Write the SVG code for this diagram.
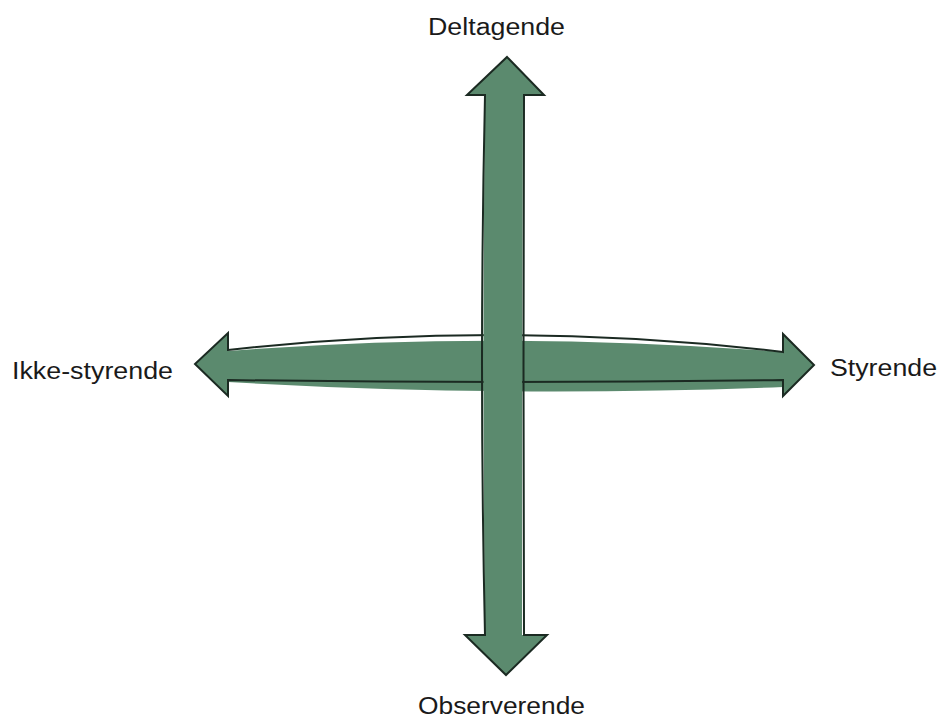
<svg xmlns="http://www.w3.org/2000/svg" width="940" height="718" viewBox="0 0 940 718">
  <style>
    .fill { fill: #5b8a6e; stroke: none; }
    .outline { fill: none; stroke: #1b2a22; stroke-width: 2; stroke-linejoin: miter; }
    .label { font-family: "Liberation Sans", Arial, sans-serif; font-size: 23px; fill: #1a1a1a; }
  </style>
  <rect x="0" y="0" width="940" height="718" fill="#ffffff"/>
  <g id="connectors">
    <g id="axis-horizontal">
      <path class="fill" d="M195,364 L228,333 L228,351 Q500,330 783,352 L783,334 L814,365 L783,396 L783,387 Q500,398 228,382 L228,396 Z"/>
      <path class="outline" d="M228,350 L228,333 L195,364 L228,396 L228,380 Q505,384 783,380 L783,396 L814,365 L783,334 L783,352 Q505,319 228,350 Z"/>
    </g>
    <g id="axis-vertical">
      <path class="fill" d="M507,57 L544,95 L523,95 Q522,365 522,635 L547,635 L506,675 L465,635 L485,635 Q482,365 485,95 L467,95 Z"/>
      <path class="outline" d="M507,57 L544,95 L524,95 Q523,365 524,635 L547,635 L506,675 L465,635 L485,635 Q479,365 485,95 L467,95 Z"/>
    </g>
  </g>
  <g id="node-deltagende">
    <text class="label" x="428" y="35" textLength="137" lengthAdjust="spacingAndGlyphs">Deltagende</text>
  </g>
  <g id="node-ikke-styrende">
    <text class="label" x="12" y="379" textLength="161" lengthAdjust="spacingAndGlyphs">Ikke-styrende</text>
  </g>
  <g id="node-styrende">
    <text class="label" x="830" y="376" textLength="107" lengthAdjust="spacingAndGlyphs">Styrende</text>
  </g>
  <g id="node-observerende">
    <text class="label" x="418" y="714" textLength="167" lengthAdjust="spacingAndGlyphs">Observerende</text>
  </g>
</svg>
